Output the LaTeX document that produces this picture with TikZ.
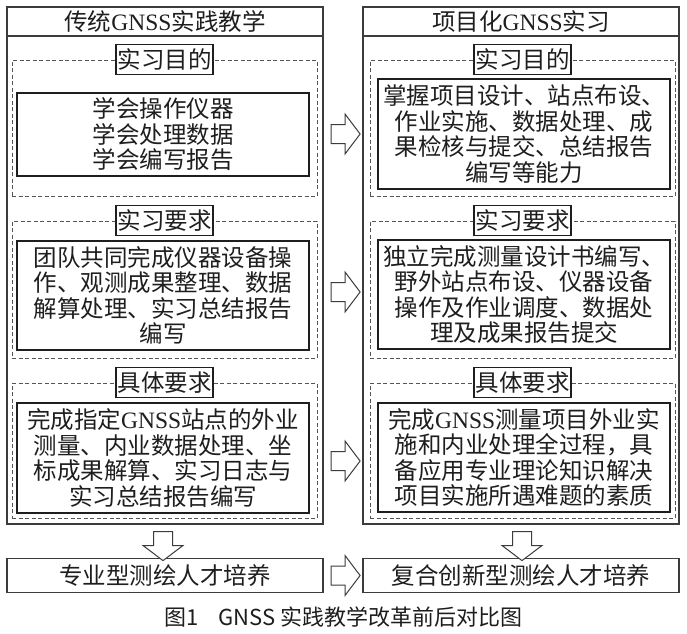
\documentclass[tikz,border=0pt]{standalone}
\usepackage{fontspec}
\setmainfont{Noto Sans CJK SC}
\newfontfamily\latinserif{Liberation Serif}
\usetikzlibrary{shapes.arrows,positioning}
\definecolor{FigInk}{HTML}{1E1E1E}
\definecolor{FigFrame}{HTML}{3C3C3C}
\definecolor{FigDash}{HTML}{555555}
\newcommand{\GNSSword}{{\latinserif GNSS}}
\tikzset{
  every node/.style={text=FigInk},
  bodytext/.style={font=\fontsize{23.5}{25.5}\selectfont},
  column/.style={draw=FigFrame, line width=1.2pt, minimum width=316pt},
  header/.style={column, bodytext, minimum height=29pt, inner sep=0pt},
  section/.style={draw=FigDash, line width=0.8pt, dash pattern=on 4pt off 2.5pt, minimum width=305pt},
  content/.style={draw=FigInk, line width=1.3pt, bodytext, align=center, minimum width=292pt, inner sep=0pt},
  tag/.style={draw=FigInk, line width=1.1pt, fill=white, bodytext, inner sep=1.5pt, minimum height=30pt},
  hollow/.style={single arrow, draw=FigFrame, line width=1pt, fill=white, minimum height=29pt,
    inner xsep=0pt, inner ysep=9pt, single arrow head extend=10.5pt, single arrow tip angle=106},
  result/.style={column, bodytext, minimum height=34pt},
}
\begin{document}
\begin{tikzpicture}[x=1pt,y=-1pt]
  \useasboundingbox[fill=white] (0,0) rectangle (687,633);
  % left column: traditional teaching
  \node[column, minimum height=517pt] (lcol) at (165,265.5) {};
  \node[header, anchor=north] (lhead) at (lcol.north) {传统\GNSSword 实践教学};
  \node[section, minimum height=136pt] (lsec1) at (164.5,128) {};
  \node[content, minimum height=83pt] (laim) at (163,134.5) {学会操作仪器\\学会处理数据\\学会编写报告};
  \node[tag] (laimtag) at (lsec1.north) {实习目的};
  \node[section, minimum height=137pt] (lsec2) at (164.5,289.5) {};
  \node[content, minimum height=109pt] (lreq) at (163,295.5) {团队共同完成仪器设备操\\作、观测成果整理、数据\\解算处理、实习总结报告\\编写};
  \node[tag] (lreqtag) at (lsec2.north) {实习要求};
  \node[section, minimum height=135pt] (lsec3) at (164.5,450.5) {};
  \node[content, minimum height=110pt] (ldet) at (163,458) {完成指定\GNSSword 站点的外业\\测量、内业数据处理、坐\\标成果解算、实习日志与\\实习总结报告编写};
  \node[tag] (ldettag) at (lsec3.north) {具体要求};
  % right column: project-based practice
  \node[column, minimum height=517pt] (rcol) at (521,265.5) {};
  \node[header, anchor=north] (rhead) at (rcol.north) {项目化\GNSSword 实习};
  \node[section, minimum height=136pt] (rsec1) at (522.5,128) {};
  \node[content, minimum height=110pt] (raim) at (524,134) {掌握项目设计、站点布设、\\作业实施、数据处理、成\\果检核与提交、总结报告\\编写等能力};
  \node[tag] (raimtag) at (rsec1.north) {实习目的};
  \node[section, minimum height=137pt] (rsec2) at (522.5,289.5) {};
  \node[content, minimum height=109pt] (rreq) at (524,294.5) {独立完成测量设计书编写、\\野外站点布设、仪器设备\\操作及作业调度、数据处\\理及成果报告提交};
  \node[tag] (rreqtag) at (rsec2.north) {实习要求};
  \node[section, minimum height=135pt] (rsec3) at (522.5,450.5) {};
  \node[content, minimum height=109pt] (rdet) at (524,457.5) {完成\GNSSword 测量项目外业实\\施和内业处理全过程，具\\备应用专业理论知识解决\\项目实施所遇难题的素质};
  \node[tag] (rdettag) at (rsec3.north) {具体要求};
  % outcomes
  \node[result] (lgoal) at (165,575.5) {专业型测绘人才培养};
  \node[result] (rgoal) at (521,575.5) {复合创新型测绘人才培养};
  % hollow arrows
  \node[hollow] (aaim) at (342,134) {};
  \node[hollow] (areq) at (342,292) {};
  \node[hollow] (adet) at (342,461) {};
  \node[hollow] (agoal) at (342,575.5) {};
  \node[hollow, rotate=-90] (ldown) at (163,542.5) {};
  \node[hollow, rotate=-90] (rdown) at (522,542.5) {};
  % caption
  \node[font=\fontsize{22}{22}\selectfont] (caption) at (343.5,617) {图1\hspace{0.9em}GNSS\hspace{0.2em}实践教学改革前后对比图};
\end{tikzpicture}
\end{document}
